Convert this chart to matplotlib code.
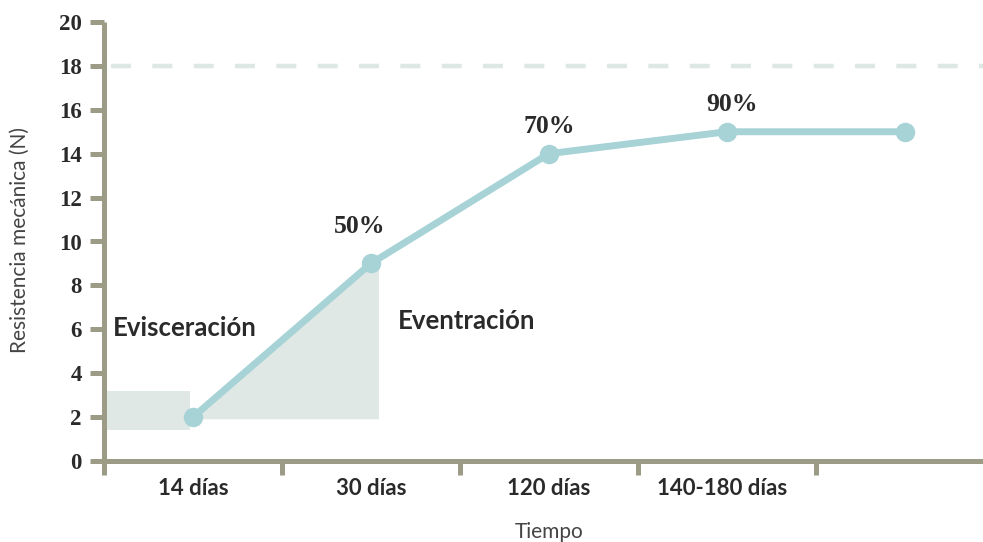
import matplotlib
matplotlib.use("Agg")
import matplotlib.pyplot as plt
from matplotlib.patches import Rectangle, Polygon

# Data
categories = ["14 días", "30 días", "120 días", "140-180 días", ""]
resistance = [2, 9, 14, 15, 15]
pct_labels = ["", "50%", "70%", "90%", ""]
reference_level = 18
y_ticks = [0, 2, 4, 6, 8, 10, 12, 14, 16, 18, 20]

AXIS_C = "#9c9b86"
LINE_C = "#a7d3d7"
FILL_C = "#dfe8e4"
DASH_C = "#dde7e3"
TEXT_C = "#2a2a2a"

fig = plt.figure(figsize=(9.83, 5.42), dpi=100)
ax = fig.add_axes([104 / 983, 81 / 542, 879 / 983, 439 / 542])

x = list(range(len(resistance)))
ax.set_xlim(-0.5, 4.44)
ax.set_ylim(0, 20)

# Reference level
ax.axhline(reference_level, xmin=0.008, color=DASH_C, lw=3.2, dashes=(4.5, 4.8), zorder=1)

# Shaded zones
ax.add_patch(Rectangle((-0.5, 1.4), 0.483, 1.8, facecolor=FILL_C, edgecolor="none", zorder=1))
ax.add_patch(Polygon([(0, 1.9), (0, resistance[0]), (x[1], resistance[1]),
                      (1.045, resistance[1] - 0.2), (1.045, 1.9)],
                     closed=True, facecolor=FILL_C, edgecolor="none", zorder=1))

# Main curve
ax.plot(x, resistance, color=LINE_C, lw=5, marker="o", ms=13, mfc=LINE_C, mec=LINE_C,
        zorder=3, solid_capstyle="round")

pct_offsets = {1: (-8, 22), 2: (0, 15), 3: (4, 15)}
for i, lab in enumerate(pct_labels):
    if lab:
        ax.annotate(lab, (x[i], resistance[i]), xytext=pct_offsets[i], textcoords="offset points",
                    ha="center", va="baseline", fontsize=18.5, fontweight="bold",
                    family="Liberation Serif", color=TEXT_C)

ax.text(-0.452, 6.05, "Evisceración", fontsize=18.5, fontweight="bold", family="Lato",
        color=TEXT_C, va="center", ha="left")
ax.text(1.15, 6.4, "Eventración", fontsize=18.5, fontweight="bold", family="Lato",
        color=TEXT_C, va="center", ha="left")

# Axes styling
for s in ["top", "right"]:
    ax.spines[s].set_visible(False)
for s in ["left", "bottom"]:
    ax.spines[s].set_color(AXIS_C)
    ax.spines[s].set_linewidth(3.6)
    ax.spines[s].set_capstyle("butt")

ax.set_yticks(y_ticks)
ax.set_yticklabels([str(v) for v in y_ticks], fontsize=16.5, fontweight="bold",
                   family="Liberation Serif", color=TEXT_C)
ax.tick_params(axis="y", length=10, width=3.6, color=AXIS_C, pad=6)

ax.set_xticks([i - 0.5 for i in range(5)])
ax.set_xticklabels([])
ax.tick_params(axis="x", length=10, width=3.6, color=AXIS_C)
for i, c in enumerate(categories):
    if c:
        ax.annotate(c, (x[i], 0), xytext=(0 if i < 3 else -3, -24.5), textcoords="offset points",
                    ha="center", va="baseline", fontsize=16, fontweight="bold", family="Lato",
                    color=TEXT_C, annotation_clip=False)

ax.annotate("Tiempo", (x[2], 0), xytext=(0, -55.5), textcoords="offset points",
            ha="center", va="baseline", fontsize=15, family="Lato", color="#444444",
            annotation_clip=False)
fig.text(20 / 983, 1 - 240 / 542, "Resistencia mecánica (N)", rotation=90, fontsize=15,
         family="Lato", color="#444444", ha="center", va="center")

fig.savefig("out.png", dpi=100, facecolor="white")
